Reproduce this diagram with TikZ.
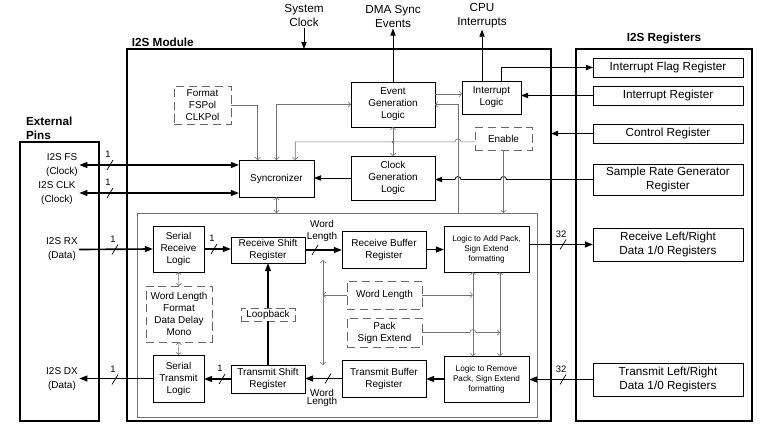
\documentclass[tikz,border=0pt]{standalone}
\usepackage{fontspec}
\setmainfont{Liberation Sans}
\usetikzlibrary{arrows.meta,positioning,calc}

\begin{document}
\begin{tikzpicture}[
    x=0.03cm, y=-0.03cm,
    font=\fontsize{8.5}{10.2}\selectfont,
    frm/.style={draw, line width=1.6pt, inner sep=0pt, outer sep=0pt},
    box/.style={
        draw,
        line width=0.7pt,
        align=center,
        inner sep=1pt,
        outer sep=0pt
    },
    dbox/.style={box, draw=black!60, dash pattern=on 7pt off 4pt},
    reg/.style={box, minimum width=4.5cm, font=\fontsize{10}{11.9}\selectfont},
    fine/.style={font=\fontsize{7}{8.5}\selectfont},
    big/.style={align=center, inner sep=1pt, font=\fontsize{10}{11.9}\selectfont},
    title/.style={inner sep=1pt, font=\bfseries\fontsize{10}{12}\selectfont},
    pinlabel/.style={align=center, inner sep=1pt, font=\fontsize{8.5}{12}\selectfont},
    bus/.style={line width=1.4pt, -{Triangle[length=7pt,width=5pt]}},
    bus2/.style={bus, {Triangle[length=7pt,width=5pt]}-{Triangle[length=7pt,width=5pt]}},
    ctl/.style={line width=0.7pt, -{Triangle[length=6pt,width=4.5pt]}},
    aux/.style={draw=black!55, line width=0.5pt, -{Straight Barb[length=2pt,width=4.5pt]}},
    aux2/.style={aux, {Straight Barb[length=2pt,width=4.5pt]}-{Straight Barb[length=2pt,width=4.5pt]}},
    pics/busmark/.style={code={
        \draw[-, line width=0.6pt] (-3,5) -- (3,-5);
        \node[anchor=south, inner sep=0pt, font=\fontsize{8}{9}\selectfont] at (-2,-7) {#1};
    }}
]
\useasboundingbox (0,0) rectangle (768,427);

% --- Frames ---
\node[frm, minimum width=2.37cm, minimum height=8.37cm] (pins) at (59.5,281.5) {};
\node[frm, minimum width=12.72cm, minimum height=11.16cm] (module) at (339,235) {};
\node[frm, minimum width=5.28cm, minimum height=11.16cm] (regs) at (664,235) {};
\node[draw=black!55, line width=0.7pt, inner sep=0pt, outer sep=0pt,
      minimum width=12cm, minimum height=6.12cm] (inner) at (337,315) {};

\node[title, anchor=south west, xshift=3pt, yshift=1pt] (modtitle) at (module.north west) {I2S Module};
\node[title, above=3pt of regs] (regtitle) {I2S Registers};
\node[title, align=left, anchor=south west, xshift=4pt, yshift=1pt] (pintitle) at (pins.north west) {External\\Pins};

% --- Top signals ---
\node[big] (sysclk) at (304,15) {System\\Clock};
\node[big] (dma) at (393,16) {DMA Sync\\Events};
\node[big] (cpu) at (482,16) {CPU\\Interrupts};

% --- Pins ---
\node[pinlabel] (fs) at (62,165) {I2S FS\\(Clock)};
\node[pinlabel] (clk) at (57,193) {I2S CLK\\(Clock)};
\node[pinlabel] (rx) at (62,249.5) {I2S RX\\(Data)};
\node[pinlabel] (dx) at (62,379.5) {I2S DX\\(Data)};

% --- Control part ---
\node[box, minimum width=2.52cm, minimum height=1.35cm] (evgen) at (393,104.5) {Event\\Generation\\Logic};
\node[box, minimum width=1.77cm, minimum height=0.99cm] (intlog) at (491.5,97.5) {Interrupt\\Logic};
\node[dbox, minimum width=1.71cm, minimum height=0.69cm] (enable) at (503.5,138.5) {Enable};
\node[box, minimum width=2.52cm, minimum height=1.32cm] (clkgen) at (393,178) {Clock\\Generation\\Logic};
\node[box, minimum width=2.25cm, minimum height=1.11cm] (sync) at (276.5,178.5) {Syncronizer};
\node[dbox, minimum width=1.71cm, minimum height=1.14cm] (fmt) at (202.5,105) {Format\\FSPol\\CLKPol};

% --- Registers ---
\node[reg, minimum height=0.57cm] (ifr) at (668,67.5) {Interrupt Flag Register};
\node[reg, minimum height=0.57cm, below=0.27cm of ifr] (ir) {Interrupt Register};
\node[reg, minimum height=0.57cm, below=0.57cm of ir] (cr) {Control Register};
\node[reg, minimum height=0.93cm, below=0.63cm of cr] (srg) {Sample Rate Generator\\Register};
\node[reg, minimum height=0.99cm] (rxreg) at (668,244.5) {Receive Left/Right\\Data 1/0 Registers};
\node[reg, minimum height=0.99cm] (txreg) at (668,379.5) {Transmit Left/Right\\Data 1/0 Registers};

% --- Data part ---
\node[box, minimum width=1.53cm, minimum height=1.38cm] (srl) at (178.5,249) {Serial\\Receive\\Logic};
\node[box, minimum width=2.22cm, minimum height=0.78cm] (rsr) at (268,250) {Receive Shift\\Register};
\node[box, minimum width=2.52cm, minimum height=1.11cm] (rbr) at (384,249.5) {Receive Buffer\\Register};
\node[box, fine, minimum width=2.55cm, minimum height=1.38cm] (addpk) at (486.5,249) {Logic to Add Pack,\\Sign Extend\\formatting};
\node[dbox, minimum width=1.98cm, minimum height=1.68cm] (cfg) at (179,314) {Word Length\\Format\\Data Delay\\Mono};
\node[dbox, inner sep=0pt, minimum width=1.62cm, minimum height=0.39cm] (loop) at (268,314.5) {Loopback};
\node[dbox, minimum width=2.25cm, minimum height=0.84cm] (wl) at (384.5,295) {Word Length};
\node[dbox, minimum width=2.25cm, minimum height=0.87cm] (pse) at (384.5,332.5) {Pack\\Sign Extend};
\node[box, minimum width=1.53cm, minimum height=1.41cm] (stl) at (178.5,378.5) {Serial\\Transmit\\Logic};
\node[box, minimum width=2.22cm, minimum height=0.84cm] (tsr) at (268,379) {Transmit Shift\\Register};
\node[box, minimum width=2.52cm, minimum height=1.11cm] (tbr) at (384,378.5) {Transmit Buffer\\Register};
\node[box, fine, minimum width=2.55cm, minimum height=1.38cm] (rmpk) at (486.5,379) {Logic to Remove\\Pack, Sign Extend\\formatting};

\node[align=center] (wlup) at (322,231) {Word\\Length};
\node[align=center, font=\fontsize{8.5}{7.5}\selectfont] (wldn) at (322,398) {Word\\Length};

% --- Helper points ---
\coordinate (s1) at ($(sync.north west)!.25!(sync.north east)$);
\coordinate (s2) at ($(sync.north west)!.5!(sync.north east)$);
\coordinate (s3) at ($(sync.north west)!.75!(sync.north east)$);
\coordinate (en) at ($(enable.south west)!.35!(enable.north west)$);
\coordinate (hx) at (inner.north -| 458,0);
\coordinate (pa) at ($(addpk.south west)!.34!(addpk.south east)$);
\coordinate (pb) at ($(addpk.south west)!.66!(addpk.south east)$);
\coordinate (qa) at ($(rmpk.north west)!.34!(rmpk.north east)$);
\coordinate (qb) at ($(rmpk.north west)!.66!(rmpk.north east)$);
\coordinate (wlt) at (323,260);
\coordinate (wlb) at (323,365);

% --- Pin connections ---
\draw[bus2] (fs.east) -- (fs.east -| sync.west);
\draw[bus2] (fs.east |- clk.east) -- (clk.east -| sync.west);
\draw[bus] (rx.east) -- (srl.west);
\draw[bus] (stl.west) -- (stl.west -| dx.east);

% --- Data path ---
\draw[bus] (srl.east) -- (srl.east -| rsr.west);
\draw[bus] (rsr.east) -- (rsr.east -| rbr.west);
\draw[bus] (rbr.east) -- (rbr.east -| addpk.west);
\draw[bus] (rxreg.west -| addpk.east) -- (rxreg.west);
\draw[bus] (txreg.west) -- (txreg.west -| rmpk.east);
\draw[bus] (rmpk.west) -- (rmpk.west -| tbr.east);
\draw[bus] (tbr.west) -- (tbr.west -| tsr.east);
\draw[bus] (tsr.west) -- (tsr.west -| stl.east);
\draw[line width=1.4pt] (tsr.north) -- (loop.south);
\draw[bus] (loop.north) -- (rsr.south);

\path (110,165) pic{busmark=1}
      (110,193) pic{busmark=1}
      (115,249.5) pic{busmark=1}
      (115,379.5) pic{busmark=1}
      (214,249) pic{busmark=1}
      (315,250) pic{busmark=}
      (328,378.5) pic{busmark=}
      (222,379) pic{busmark=1}
      (563,244.5) pic{busmark=32}
      (563,379.5) pic{busmark=32};

% --- Control signals ---
\draw[ctl] (sysclk.south) -- (sysclk.south |- module.north);
\draw[ctl] (evgen.north) -- (dma.south);
\draw[ctl] (intlog.north -| cpu) -- (cpu.south);
\draw[ctl] (intlog.north -| 501,0) |- (ifr.west);
\draw[ctl] (ir.west) -- (ir.west -| intlog.east);
\draw[ctl] (cr.west) -- (cr.west -| module.east);
\draw[ctl] (srg.west) -- ($(srg.west -| enable.south)+(3,0)$)
    arc[start angle=0, end angle=180, radius=0.09cm]
    -- ($(srg.west -| hx)+(3,0)$)
    arc[start angle=0, end angle=180, radius=0.09cm]
    -- (srg.west -| clkgen.east);
\draw[ctl] (clkgen.west) -- (clkgen.west -| sync.east);

% --- Configuration lines ---
\draw[aux] (fmt.east) -| (s1);
\draw[aux2] (s2) |- (evgen.west);
\draw[aux] (en) -- ($(en -| hx)+(3,0)$)
    arc[start angle=0, end angle=180, radius=0.09cm]
    -- (en -| s3) -- (s3);
\draw[aux2] (evgen.south) -- (clkgen.north);
\fill[black!55] (evgen.south |- en) circle[radius=1.2pt];
\draw[aux] (evgen.east |- 0,94) -- (intlog.west |- 0,94);
\draw[aux] (hx) |- (evgen.east);
\draw[aux] (enable.south) -- (enable.south |- inner.north);
\draw[aux2] (sync.south) -- (sync.south |- inner.north);

\draw[aux2] (srl.south) -- (cfg.north);
\draw[aux2] (cfg.south) -- (stl.north);
\draw[aux2] (wlt) -- (wlb);
\draw[aux] (wl.west) -- (wl.west -| wlt);
\draw[aux] (wl.east) -- (wl.east -| pa);
\draw[aux] (pse.east) -- ($(pse.east -| pa)+(-3,0)$)
    arc[start angle=180, end angle=0, radius=0.09cm]
    -- (pse.east -| pb);
\draw[aux2] (pa) -- (qa);
\draw[aux2] (pb) -- (qb);

\end{tikzpicture}
\end{document}
